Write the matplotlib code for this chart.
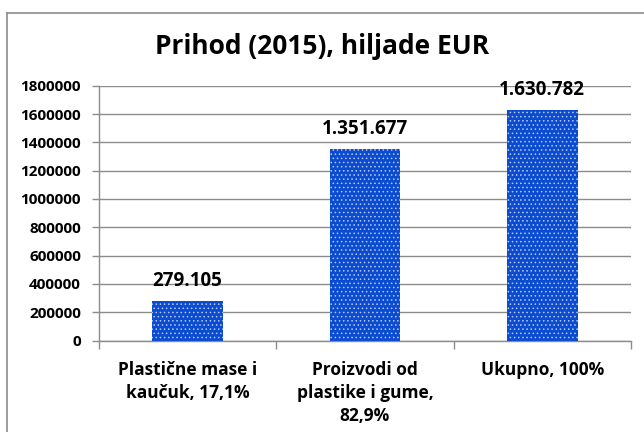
import matplotlib
matplotlib.use("Agg")
import matplotlib.pyplot as plt
from matplotlib.lines import Line2D

categories = ["Plastične mase i\nkaučuk, 17,1%", "Proizvodi od\nplastike i gume,\n82,9%", "Ukupno, 100%"]
values = [279105, 1351677, 1630782]
value_labels = ["279.105", "1.351.677", "1.630.782"]
yticks = [0, 200000, 400000, 600000, 800000, 1000000, 1200000, 1400000, 1600000, 1800000]
title = "Prihod (2015), hiljade EUR"

plt.rcParams['font.family'] = ['Open Sans', 'DejaVu Sans']
plt.rcParams['hatch.linewidth'] = 0.6

W, H = 644, 432
fig = plt.figure(figsize=(W/100, H/100), dpi=100)
ax = fig.add_axes([99/W, 1-340.5/H, (631-99)/W, (340.5-85.7)/H])

grey = "#8c8c8c"
blue = "#0a4bd0"
x = list(range(len(values)))
ax.bar(x, values, width=0.40, color=blue, edgecolor='none', zorder=3)
ax.bar(x, values, width=0.40, facecolor='none', edgecolor='#b4c8f2', hatch='....', linewidth=0, zorder=4)

ax.set_xlim(-0.5, 2.5)
ax.set_ylim(0, 1800000)
ax.set_yticks(yticks)
ax.set_yticklabels([str(v) for v in yticks], fontsize=11, fontweight='bold')
ax.yaxis.grid(True, color=grey, linewidth=1.0, zorder=0)
ax.set_axisbelow(True)

ax.set_xticks(x)
ax.set_xticklabels(categories, fontsize=12.5, fontweight='bold', linespacing=1.35)
ax.tick_params(axis='x', length=0, pad=15)
ax.set_xticks([-0.5, 0.5, 1.5, 2.5], minor=True)
ax.tick_params(axis='x', which='minor', length=6, color=grey, width=1)
ax.tick_params(axis='y', length=5, color=grey, width=1, pad=8)

for s in ['top', 'right']:
    ax.spines[s].set_visible(False)
for s in ['left', 'bottom']:
    ax.spines[s].set_color(grey)
    ax.spines[s].set_linewidth(1.0)

for xi, v, lab in zip(x, values, value_labels):
    ax.annotate(lab, (xi, v), xytext=(0, 20), textcoords='offset pixels',
                ha='center', va='center', fontsize=13.5, fontweight='bold', zorder=5)

fig.text(322/W, 1-46/H, title, ha='center', va='center', fontsize=19, fontweight='bold')

# chart area border (left and top visible)
fig.add_artist(Line2D([6.5/W, 6.5/W], [0, 1-12.5/H], transform=fig.transFigure, color=grey, linewidth=1.2))
fig.add_artist(Line2D([6.5/W, 1], [1-12.5/H, 1-12.5/H], transform=fig.transFigure, color=grey, linewidth=1.2))

fig.savefig("out.png", dpi=100)
